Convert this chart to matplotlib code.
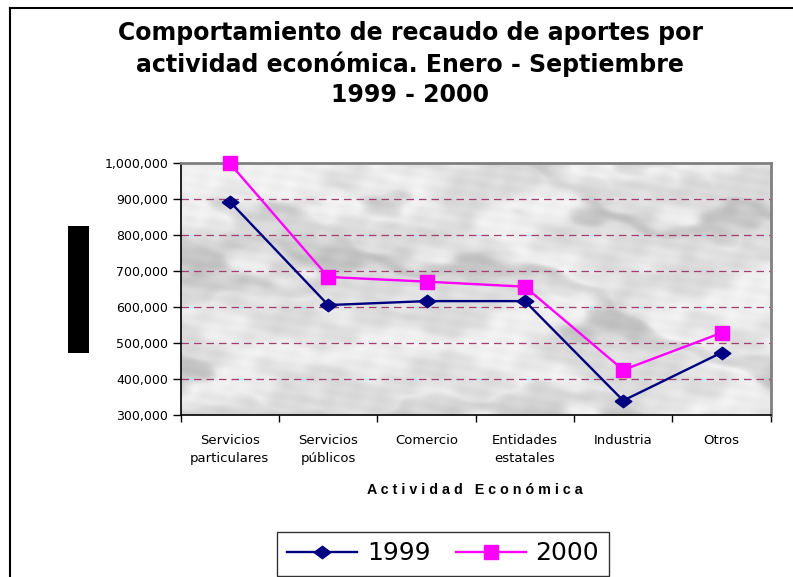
import numpy as np
import matplotlib
matplotlib.use("Agg")
import matplotlib.pyplot as plt
from matplotlib.lines import Line2D
from matplotlib.patches import Rectangle
from matplotlib.ticker import FuncFormatter, FixedLocator

plt.rcParams['font.family'] = ['DejaVu Sans']

categories = ["Servicios\nparticulares", "Servicios\npúblicos", "Comercio",
              "Entidades\nestatales", "Industria", "Otros"]
values_1999 = [892000, 605000, 616000, 616000, 340000, 473000]
values_2000 = [998000, 683000, 670000, 656000, 425000, 528000]
y_ticks = [300000, 400000, 500000, 600000, 700000, 800000, 900000, 1000000]

W, H = 793, 577
fig = plt.figure(figsize=(W / 100, H / 100), dpi=100)

def fx(px):
    return px / W

def fy(py):
    return 1 - py / H

# outer border (left and top)
fig.add_artist(Line2D([fx(10), fx(10)], [fy(8), 0], color='black', lw=1.5, transform=fig.transFigure))
fig.add_artist(Line2D([fx(10), 1], [fy(8), fy(8)], color='black', lw=1.5, transform=fig.transFigure))

# black block at left
fig.add_artist(Rectangle((fx(68), fy(353)), fx(89) - fx(68), fy(226) - fy(353),
                         facecolor='black', edgecolor='none', transform=fig.transFigure))

left, right, top, bottom = 180.7, 770.7, 162.7, 415.0
ax = fig.add_axes([fx(left), fy(bottom), fx(right) - fx(left), fy(top) - fy(bottom)])

# marble-like background texture (deterministic)
gx, gy = np.meshgrid(np.linspace(0, 1, 300), np.linspace(0, 1, 130))
turb = (0.9 * np.sin(7 * gx + 3 * gy) + 0.6 * np.sin(13 * gy - 5 * gx + 1.3)
        + 0.4 * np.sin(23 * gx + 17 * gy + 0.7) + 0.25 * np.sin(41 * gx - 29 * gy + 2.1)
        + 0.15 * np.sin(71 * gx + 53 * gy))
marble = np.sin(9 * gx - 6 * gy + 2.2 * turb)
fine = 0.5 * np.sin(97 * gx + 61 * gy) * np.sin(83 * gy - 47 * gx)
streak = np.clip(np.sin(5 * gx + 11 * gy + 1.5 * turb), 0.55, 1.0) - 0.55
shade = 0.90 + 0.045 * marble + 0.03 * fine - 0.22 * streak
shade = np.clip(shade, 0.70, 0.97)
ax.imshow(np.dstack([shade, shade, shade]), extent=[-0.5, 5.5, 300000, 1000000],
          aspect='auto', origin='lower', zorder=0, interpolation='bilinear')

x = np.arange(len(categories))
for yv in y_ticks[1:-1]:
    ax.axhline(yv, color='#a0406e', lw=0.9, ls=(0, (6, 4)), zorder=1)

wide_diamond = [(-1, 0), (0, 0.75), (1, 0), (0, -0.75), (-1, 0)]
ax.plot(x, values_1999, color='#000080', lw=1.7, marker=wide_diamond, markersize=12,
        label='1999', zorder=3)
ax.plot(x, values_2000, color='#FF00FF', lw=1.7, marker='s', markersize=10,
        label='2000', zorder=4, clip_on=False)

ax.set_xlim(-0.5, 5.5)
ax.set_ylim(300000, 1000000)
ax.set_yticks(y_ticks)
ax.yaxis.set_major_formatter(FuncFormatter(lambda v, p: f"{int(v):,}"))
ax.tick_params(axis='y', length=6, width=1, labelsize=9, pad=3, color='black', direction='out')

ax.set_xticks(x)
ax.set_xticklabels(categories, fontsize=9.5, linespacing=1.45)
ax.tick_params(axis='x', which='major', length=0, pad=14)
ax.xaxis.set_minor_locator(FixedLocator(np.arange(-0.5, 6, 1)))
ax.tick_params(axis='x', which='minor', length=5, width=1, color='black', direction='out')

for s in ['left', 'bottom']:
    ax.spines[s].set_color('black')
    ax.spines[s].set_linewidth(1.2)
for s in ['top', 'right']:
    ax.spines[s].set_color('#808080')
    ax.spines[s].set_linewidth(2)

fig.text(fx(475), fy(490), "A c t i v i d a d   E c o n ó m i c a", ha='center', va='center',
         fontsize=10.3, fontweight='bold', family=['Liberation Sans', 'DejaVu Sans'])

fig.text(fx(410), fy(64), "Comportamiento de recaudo de aportes por\nactividad económica. Enero - Septiembre\n1999 - 2000",
         ha='center', va='center', fontsize=17, fontweight='bold', linespacing=1.33)

# legend
leg = fig.legend(loc='upper left', bbox_to_anchor=(fx(277), fy(531.5)), ncol=2, fontsize=18,
                 frameon=True, fancybox=False, edgecolor='black', handlelength=2.8,
                 handletextpad=0.4, columnspacing=1.0, borderpad=0.4, borderaxespad=0)
leg.get_frame().set_linewidth(1.0)

fig.savefig("out.png", dpi=100)
